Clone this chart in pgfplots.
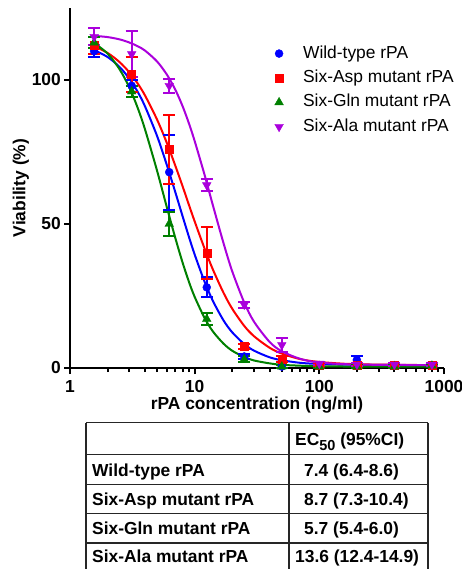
\documentclass[border=0pt]{standalone}
\usepackage{fontspec}
\setmainfont{Liberation Sans}
\usepackage{pgfplots}
\usepackage{pgfplotstable}
\pgfplotsset{compat=1.18}

\definecolor{wtblue}{RGB}{0,0,255}
\definecolor{aspred}{RGB}{255,0,0}
\definecolor{glngreen}{RGB}{0,128,0}
\definecolor{alapurple}{RGB}{170,0,220}
\newcommand{\bigfont}{\fontsize{17.4}{20}\selectfont}

% mean viability with error
\pgfplotstableread{
x y e
1.5625 110 2
3.125 98 2
6.25 68 13
12.5 28 3.5
25 4 1
50 0.5 0.5
100 1 0.5
200 2.8 1.4
400 1 0.5
800 1 0.5
}\wildtype
\pgfplotstableread{
x y e
1.5625 112 3
3.125 102 6
6.25 76 12
12.5 40 9
25 7.5 1
50 3 1
100 1 0.5
200 1 0.5
400 1 0.5
800 1 0.5
}\sixasp
\pgfplotstableread{
x y e
1.5625 113 2
3.125 96 2
6.25 50 4
12.5 17 2
25 3 1
50 0.5 0.5
100 0.5 0.5
200 0.5 0.5
400 0.5 0.5
800 0.8 0.5
}\sixgln
\pgfplotstableread{
x y e
1.5625 115 3
3.125 109 8
6.25 98 2.5
12.5 63.5 2
25 22 1
50 8 2.4
100 1.5 0.5
200 1.2 0.5
400 1.2 0.5
800 1.2 0.5
}\sixala
% fitted curves
\pgfplotstableread{
x wt asp gln ala
1.5 110.7 112.1 113.4 115.4
2 108.0 109.4 109.2 114.9
2.5 104.5 106.2 103.7 114.1
3 100.4 102.6 97.3 113.0
3.5 95.8 98.7 90.2 111.7
4 90.8 94.6 82.8 110.2
5 80.5 86.2 68.4 106.4
6 70.3 78.0 55.6 101.8
7 61.0 70.2 45.1 96.6
8 52.7 63.1 36.6 90.9
9 45.5 56.6 29.9 84.9
10 39.4 50.9 24.7 78.8
12 30.0 41.5 17.4 67.1
14 23.3 34.2 12.7 56.5
17 16.6 26.2 8.5 43.5
20 12.4 20.6 6.0 33.6
25 8.3 14.6 3.8 22.7
30 6.0 11.0 2.6 16.0
40 3.7 7.0 1.6 9.0
50 2.7 5.0 1.1 5.8
70 1.8 3.1 0.8 3.2
100 1.4 2.1 0.6 1.9
200 1.1 1.3 0.5 1.2
800 1.0 1.0 0.5 1.0
}\fits

\begin{document}
\begin{tikzpicture}
\begin{axis}[
  at={(0pt,0pt)}, anchor=south west,
  width=374pt, height=360pt, scale only axis,
  xmode=log, xmin=1, xmax=1000, ymin=0, ymax=125,
  clip=false,
  axis lines=left,
  axis line style={-, line width=2pt},
  tick style={black, line width=2pt},
  tick align=outside,
  major tick length=6pt, minor tick length=4pt,
  xtick={1,10,100,1000}, xticklabels={1,10,100,1000},
  minor xtick={2,3,4,5,6,7,8,9,20,30,40,50,60,70,80,90,200,300,400,500,600,700,800,900},
  ytick={0,50,100},
  /pgf/number format/assume math mode=true,
  xticklabel style={font=\bigfont\bfseries, inner sep=0pt, anchor=north, yshift=-6pt},
  yticklabel style={font=\bigfont\bfseries, inner sep=0pt, anchor=east, xshift=-3pt},
  xlabel={rPA concentration (ng/ml)},
  ylabel={Viability (\%)},
  xlabel style={font=\bigfont\bfseries, at={([yshift=-37pt]axis description cs:0.5,0)}, anchor=center},
  ylabel style={font=\bigfont\bfseries, at={([xshift=-49pt]axis description cs:0,0.5)}, anchor=center},
  legend style={at={(rel axis cs:0.543,0.897)}, anchor=north west, draw=none, fill=none,
    inner sep=0pt, outer sep=0pt, row sep=7.4pt, column sep=0pt, font=\bigfont,
    nodes={inner sep=0pt, text height=13pt, text depth=4pt}},
  legend cell align=left,
  legend image code/.code={\path[draw=none,fill=none] (-6pt,0pt) -- (24pt,0pt); \draw[#1] plot coordinates {(0pt,0pt)};},
  error bars/y dir=both, error bars/y explicit,
  error bars/error bar style={line width=2pt},
  error bars/error mark options={rotate=90, line width=2pt, mark size=6pt},
]
\addplot[wtblue, line width=2pt, smooth, no marks, forget plot] table[x=x, y=wt] {\fits};
\addplot[aspred, line width=2pt, smooth, no marks, forget plot] table[x=x, y=asp] {\fits};
\addplot[glngreen, line width=2pt, smooth, no marks, forget plot] table[x=x, y=gln] {\fits};
\addplot[alapurple, line width=2pt, smooth, no marks, forget plot] table[x=x, y=ala] {\fits};

\addplot[wtblue, only marks, mark=*, mark size=4pt] table[x=x, y=y, y error=e] {\wildtype};
\addplot[aspred, only marks, mark=square*, mark size=4pt] table[x=x, y=y, y error=e] {\sixasp};
\addplot[glngreen, only marks, mark=triangle*, mark size=5pt] table[x=x, y=y, y error=e] {\sixgln};
\addplot[alapurple, only marks, mark=triangle*, mark size=5pt, mark options={rotate=180}] table[x=x, y=y, y error=e] {\sixala};
\legend{Wild-type rPA, Six-Asp mutant rPA, Six-Gln mutant rPA, Six-Ala mutant rPA}
\end{axis}

% EC50 table under the plot
\begin{scope}[line width=1.2pt, black!85]
\draw (16pt,-54.7pt) -- (358pt,-54.7pt);
\foreach \yy in {-86.5,-116.5,-145.5,-175} \draw (16pt,\yy pt) -- (358pt,\yy pt);
\draw (16pt,-54.7pt) -- (16pt,-205pt);
\draw (219pt,-54.7pt) -- (219pt,-205pt);
\draw (358pt,-54.7pt) -- (358pt,-205pt);
\end{scope}
\begin{scope}[every node/.style={anchor=base west, inner sep=0pt, font=\bigfont\bfseries}]
\node at (225pt,-77.7pt) {EC\raisebox{-4.5pt}{\fontsize{14.5}{15}\selectfont 50} (95\%CI)};
\node at (22pt,-108.2pt) {Wild-type rPA};
\node at (22pt,-137.5pt) {Six-Asp mutant rPA};
\node at (22pt,-166.5pt) {Six-Gln mutant rPA};
\node at (22pt,-194.9pt) {Six-Ala mutant rPA};
\node at (234pt,-108.2pt) {7.4 (6.4-8.6)};
\node at (234pt,-137.5pt) {8.7 (7.3-10.4)};
\node at (234pt,-166.5pt) {5.7 (5.4-6.0)};
\node at (225pt,-194.9pt) {13.6 (12.4-14.9)};
\end{scope}

\pgfresetboundingbox
\path[use as bounding box] (-70pt,-201pt) rectangle (392pt,368pt);
\end{tikzpicture}
\end{document}
